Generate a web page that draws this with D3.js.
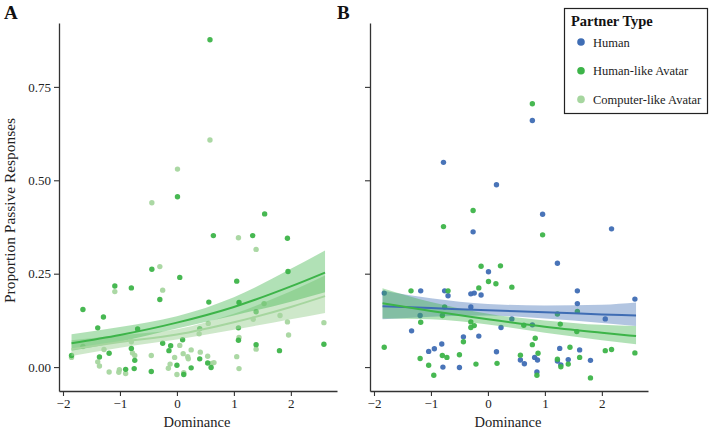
<!DOCTYPE html>
<html>
<head>
<meta charset="utf-8">
<script src="https://cdn.jsdelivr.net/npm/d3@7"></script>
<style>
body{margin:0;background:#fff;}
svg text{font-family:"Liberation Serif","Times New Roman",serif;}
</style>
</head>
<body>
<svg id="chart" width="709" height="428"></svg>
<script>
// ---------- DATA ----------
const partnerTypes = ["Human", "Human-like Avatar", "Computer-like Avatar"];
const xTicks = [-2, -1, 0, 1, 2];
const yTicks = [0, 0.25, 0.5, 0.75];

// Panel A points [dominance, proportion]
const panelA_humanLike = [
 [0.58,0.876],[0.01,0.456],[0.64,0.352],[-0.44,0.262],[0.05,0.240],[1.05,0.230],[-1.09,0.217],
 [-0.80,0.212],[-0.30,0.181],[-1.65,0.154],[0.56,0.174],[1.09,0.173],[-1.29,0.134],[-1.39,0.105],
 [-0.69,0.102],[0.40,0.103],[1.08,0.105],[1.08,0.072],[-0.25,0.064],[-0.11,0.057],[-0.14,0.044],
 [0.00,0.005],[-1.85,0.031],[-1.36,0.027],[-1.19,0.037],[-0.80,0.050],[-0.74,0.018],[-0.75,-0.004],
 [-0.90,-0.006],[-0.45,-0.012],[0.12,-0.020],[0.10,0.073],[0.40,0.022],[0.54,0.011],[0.60,-0.001],
 [0.25,-0.002],[1.54,0.410],[1.33,0.352],[1.94,0.345],[1.95,0.256],[1.39,0.148],[1.39,0.060],
 [1.80,0.044],[2.58,0.061]
];
const panelA_computerLike = [
 [0.58,0.608],[0.01,0.530],[-0.44,0.440],[1.08,0.346],[-0.30,0.269],[-1.09,0.202],[-0.25,0.206],
 [0.39,0.089],[0.55,0.117],[1.09,0.079],[-1.65,0.055],[-1.85,0.026],[-1.39,0.014],[-1.36,0.003],
 [-1.28,0.047],[-0.80,0.068],[-0.78,0.038],[-0.74,0.031],[-1.19,-0.013],[-1.01,-0.007],[-1.02,-0.014],
 [-0.90,-0.017],[-0.45,0.031],[-0.04,0.026],[-0.12,0.008],[-0.15,-0.003],[0.00,-0.020],[0.12,-0.015],
 [0.05,0.058],[0.11,0.036],[0.25,0.046],[0.19,0.028],[0.20,0.022],[0.41,0.040],[0.54,0.029],
 [0.61,0.010],[0.65,0.012],[1.39,0.315],[1.53,0.170],[1.34,0.128],[1.81,0.138],[1.94,0.121],
 [2.58,0.119],[1.96,0.086],[1.39,0.048],[1.05,0.028],[1.09,-0.004]
];
// Panel B points
const panelB_human = [
 [0.78,0.660],[-0.78,0.548],[0.15,0.488],[0.96,0.409],[-0.26,0.362],[2.17,0.370],[1.22,0.278],
 [0.01,0.255],[-0.30,0.196],[-0.24,0.198],[-0.12,0.193],[1.57,0.204],[2.58,0.182],[1.57,0.170],
 [-0.30,0.161],[0.42,0.129],[2.06,0.129],[0.78,0.113],[0.23,0.106],[-0.16,0.083],[-0.43,0.081],
 [1.26,0.050],[1.61,0.046],[0.15,0.041],[0.82,0.026],[0.87,0.019],[0.57,0.019],[0.64,0.009],
 [1.22,0.016],[1.41,0.020],[1.28,0.006],[1.80,0.018],[0.86,-0.013],[-1.82,0.198],[-1.18,0.204],
 [-0.76,0.204],[-0.70,0.191],[-1.19,0.138],[-1.34,0.097],[-0.81,0.062],[-0.94,0.049],[-1.04,0.042],
 [-0.79,0.000],[-0.50,-0.001]
];
const panelB_humanLike = [
 [0.78,0.705],[-0.26,0.419],[-0.78,0.376],[0.96,0.354],[-0.12,0.270],[0.22,0.271],[0.01,0.229],
 [0.14,0.223],[0.42,0.214],[-0.16,0.212],[1.57,0.149],[1.22,0.142],[0.63,0.112],[1.27,0.115],
 [-0.30,0.121],[-0.30,0.106],[-0.24,0.111],[1.56,0.095],[-0.43,0.068],[0.83,0.077],[0.78,0.060],
 [1.44,0.053],[2.06,0.044],[2.17,0.047],[2.58,0.038],[0.57,0.032],[0.88,0.037],[1.22,0.021],
 [1.61,0.026],[1.41,0.008],[1.28,0.001],[-0.21,0.008],[0.16,0.010],[0.86,-0.022],[1.80,-0.029],
 [-1.35,0.204],[-0.70,0.204],[-0.76,0.161],[-0.80,0.138],[-1.18,0.120],[-1.82,0.053],[-1.19,0.023],
 [-0.80,0.031],[-0.72,0.026],[-0.50,0.033],[-1.04,0.005],[-0.95,-0.022]
];

// Fitted curves at these dominance values
const fitX = [-1.85, -1, 0, 1, 2, 2.6];
const fitA_humanLike     = [0.064, 0.086, 0.119, 0.161, 0.216, 0.253];
const fitA_humanLike_lo  = [0.044, 0.068, 0.103, 0.138, 0.175, 0.200];
const fitA_humanLike_hi  = [0.088, 0.107, 0.136, 0.187, 0.263, 0.312];
const fitA_computer      = [0.048, 0.067, 0.087, 0.120, 0.161, 0.190];
const fitA_computer_lo   = [0.030, 0.052, 0.074, 0.100, 0.128, 0.145];
const fitA_computer_hi   = [0.072, 0.085, 0.101, 0.143, 0.203, 0.245];
const fitB_human         = [0.163, 0.158, 0.152, 0.147, 0.141, 0.138];
const fitB_human_lo      = [0.128, 0.135, 0.138, 0.130, 0.118, 0.110];
const fitB_human_hi      = [0.205, 0.184, 0.169, 0.165, 0.167, 0.173];
const fitB_humanLike     = [0.171, 0.150, 0.128, 0.108, 0.092, 0.083];
const fitB_humanLike_lo  = [0.130, 0.128, 0.114, 0.092, 0.072, 0.061];
const fitB_humanLike_hi  = [0.211, 0.174, 0.143, 0.125, 0.113, 0.110];

// ---------- STYLE ----------
const colors = {"Human":"#3f6db4","Human-like Avatar":"#3db449","Computer-like Avatar":"#a6d69f"};

const svg = d3.select("#chart");
const y = d3.scaleLinear().domain([-0.064, 0.921]).range([391, 23]);
const panels = [
  {x0:59, x1:337, label:"A", labelX:4, showY:true,
   series:[
     {name:"Computer-like Avatar", pts:panelA_computerLike, fit:fitA_computer, lo:fitA_computer_lo, hi:fitA_computer_hi, bandOp:0.55, bandCol:"#a6d69f"},
     {name:"Human-like Avatar", pts:panelA_humanLike, fit:fitA_humanLike, lo:fitA_humanLike_lo, hi:fitA_humanLike_hi, bandOp:0.4, bandCol:"#3db449"}
   ]},
  {x0:370, x1:648, label:"B", labelX:337, showY:false,
   series:[
     {name:"Human", pts:panelB_human, fit:fitB_human, lo:fitB_human_lo, hi:fitB_human_hi, bandOp:0.4, bandCol:"#3f6db4"},
     {name:"Human-like Avatar", pts:panelB_humanLike, fit:fitB_humanLike, lo:fitB_humanLike_lo, hi:fitB_humanLike_hi, bandOp:0.4, bandCol:"#3db449"}
   ]}
];

panels.forEach(p => {
  const x = d3.scaleLinear().domain([-2.07, 2.81]).range([p.x0, p.x1]);
  const g = svg.append("g");
  p.series.forEach(s => {
    g.append("g").selectAll("circle").data(s.pts).join("circle")
      .attr("cx", d => x(d[0])).attr("cy", d => y(d[1])).attr("r", 2.7)
      .attr("fill", colors[s.name]).attr("opacity", 0.95);
  });
  p.series.forEach(s => {
    const band = fitX.map((d,i) => ({x:d, lo:s.lo[i], hi:s.hi[i]}));
    g.append("path").datum(band)
      .attr("d", d3.area().x(d=>x(d.x)).y0(d=>y(d.lo)).y1(d=>y(d.hi)).curve(d3.curveMonotoneX))
      .attr("fill", s.bandCol).attr("opacity", s.bandOp);
  });
  p.series.forEach(s => {
    const line = fitX.map((d,i) => ({x:d, v:s.fit[i]}));
    g.append("path").datum(line)
      .attr("d", d3.line().x(d=>x(d.x)).y(d=>y(d.v)).curve(d3.curveMonotoneX))
      .attr("fill","none").attr("stroke", colors[s.name]).attr("stroke-width", 2);
  });
  const xa = g.append("g").attr("transform","translate(0,391)")
    .call(d3.axisBottom(x).tickValues(xTicks).tickSize(5).tickSizeOuter(0).tickFormat(d3.format("")));
  const ya = g.append("g").attr("transform",`translate(${p.x0},0)`)
    .call(d3.axisLeft(y).tickValues(yTicks).tickSize(5).tickSizeOuter(0)
      .tickFormat(p.showY ? d3.format(".2f") : ""));
  [xa, ya].forEach(a => {
    a.select(".domain").attr("stroke","#333").attr("stroke-width",1.3);
    a.selectAll(".tick line").attr("stroke","#333").attr("stroke-width",1.1);
    a.selectAll(".tick text").attr("fill","#222").attr("font-size","13px")
      .style("font-family","'Liberation Serif',serif");
  });
  svg.append("text").attr("x",(p.x0+p.x1)/2 - 1).attr("y",426.5).attr("text-anchor","middle")
    .attr("font-size","14.5px").attr("fill","#222").text("Dominance");
  svg.append("text").attr("x",p.labelX).attr("y",19).attr("font-size","19px")
    .attr("font-weight","bold").attr("fill","#111").text(p.label);
});

svg.append("text").attr("transform","translate(15,210.5) rotate(-90)").attr("text-anchor","middle")
  .attr("font-size","15.5px").attr("textLength",185).attr("lengthAdjust","spacingAndGlyphs")
  .attr("fill","#222").text("Proportion Passive Responses");

const lg = svg.append("g");
lg.append("rect").attr("x",564.5).attr("y",8.5).attr("width",143).attr("height",105)
  .attr("fill","#fff").attr("stroke","#222").attr("stroke-width",1.2);
lg.append("text").attr("x",571).attr("y",26).attr("font-size","14.5px").attr("font-weight","bold")
  .attr("fill","#111").text("Partner Type");
partnerTypes.forEach((t,i) => {
  const cy = 42 + i*28.7;
  lg.append("circle").attr("cx",581).attr("cy",cy).attr("r",3.8).attr("fill",colors[t]);
  lg.append("text").attr("x",593).attr("y",cy+4.5).attr("font-size","12.5px").attr("fill","#222").text(t);
});
</script>
</body>
</html>
